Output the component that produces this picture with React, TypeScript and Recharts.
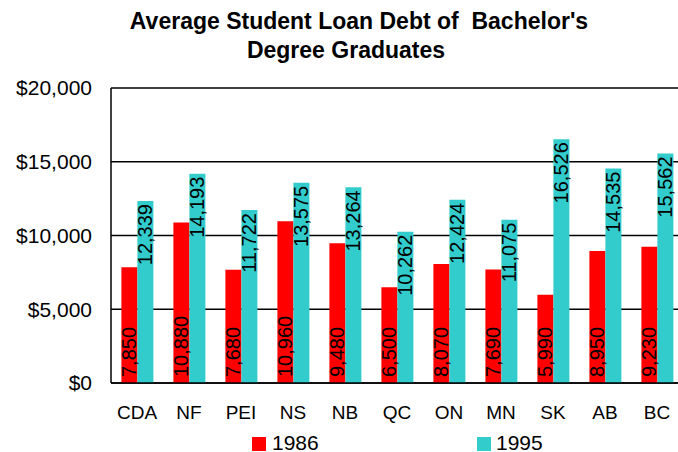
import React from 'react';
import { BarChart, Bar, XAxis, YAxis, CartesianGrid, LabelList } from 'recharts';

const categories = ['CDA', 'NF', 'PEI', 'NS', 'NB', 'QC', 'ON', 'MN', 'SK', 'AB', 'BC'];
const debt1986 = [7850, 10880, 7680, 10960, 9480, 6500, 8070, 7690, 5990, 8950, 9230];
const debt1995 = [12339, 14193, 11722, 13575, 13264, 10262, 12424, 11075, 16526, 14535, 15562];
const yTicks = [0, 5000, 10000, 15000, 20000];
const seriesNames = ['1986', '1995'];
const seriesColors = ['#FF0000', '#33CCCC'];
const titleLines = ["Average Student Loan Debt of  Bachelor's", 'Degree Graduates'];

const data = categories.map((c, i) => ({ name: c, s1986: debt1986[i], s1995: debt1995[i] }));

const FONT = '"Liberation Sans", Arial, Helvetica, sans-serif';
const fmt = (v: number) => Number(v).toLocaleString('en-US');

const BottomLabel = (props: any) => {
  const { x, y, width, height, value } = props;
  const cx = Number(x) + Number(width) / 2;
  const by = Number(y) + Number(height) - 6;
  return (
    <text x={cx} y={by} transform={`rotate(-90 ${cx} ${by})`} textAnchor="start"
      dominantBaseline="central" fontSize={20} fontFamily={FONT} fill="#000">
      {fmt(value)}
    </text>
  );
};

const TopLabel = (props: any) => {
  const { x, y, width, value } = props;
  const cx = Number(x) + Number(width) / 2;
  const ty = Number(y) + 3;
  return (
    <text x={cx} y={ty} transform={`rotate(-90 ${cx} ${ty})`} textAnchor="end"
      dominantBaseline="central" fontSize={20} fontFamily={FONT} fill="#000">
      {fmt(value)}
    </text>
  );
};

export default function App() {
  return (
    <div style={{ position: 'absolute', left: 0, top: 0, width: 678, height: 452, overflow: 'hidden', background: '#fff', fontFamily: FONT }}>
      <BarChart width={683} height={452} data={data}
        margin={{ top: 88, right: 0, bottom: 39, left: 0 }}
        barCategoryGap="20%" barGap={0}>
        <CartesianGrid vertical={false} stroke="#000" strokeWidth={1.3} />
        <XAxis dataKey="name" height={30} tickLine={false} tickSize={0} tickMargin={23}
          axisLine={{ stroke: '#000', strokeWidth: 1.5 }}
          tick={{ fill: '#000', fontSize: 19, fontFamily: FONT }} interval={0} />
        <YAxis width={111} domain={[0, 20000]} ticks={yTicks} tickLine={false} tickSize={0} tickMargin={19}
          axisLine={{ stroke: '#000', strokeWidth: 1.5 }}
          tickFormatter={(v: number) => `$${fmt(v)}`}
          tick={{ fill: '#000', fontSize: 21, fontFamily: FONT }} />
        <Bar dataKey="s1986" name={seriesNames[0]} fill={seriesColors[0]} isAnimationActive={false}>
          <LabelList dataKey="s1986" content={BottomLabel} />
        </Bar>
        <Bar dataKey="s1995" name={seriesNames[1]} fill={seriesColors[1]} isAnimationActive={false}>
          <LabelList dataKey="s1995" content={TopLabel} />
        </Bar>
      </BarChart>
      <svg width={678} height={452} style={{ position: 'absolute', left: 0, top: 0, pointerEvents: 'none' }}>
        <text x={359} y={29} textAnchor="middle" fontSize={23} fontWeight="bold" fontFamily={FONT} fill="#000" style={{ whiteSpace: 'pre' }}>{titleLines[0]}</text>
        <text x={346} y={58} textAnchor="middle" fontSize={23} fontWeight="bold" fontFamily={FONT} fill="#000">{titleLines[1]}</text>
        <rect x={252} y={437} width={14} height={14} fill={seriesColors[0]} />
        <text x={272} y={450} fontSize={21} fontFamily={FONT} fill="#000">{seriesNames[0]}</text>
        <rect x={477} y={437} width={14} height={14} fill={seriesColors[1]} />
        <text x={496} y={450} fontSize={21} fontFamily={FONT} fill="#000">{seriesNames[1]}</text>
      </svg>
    </div>
  );
}
